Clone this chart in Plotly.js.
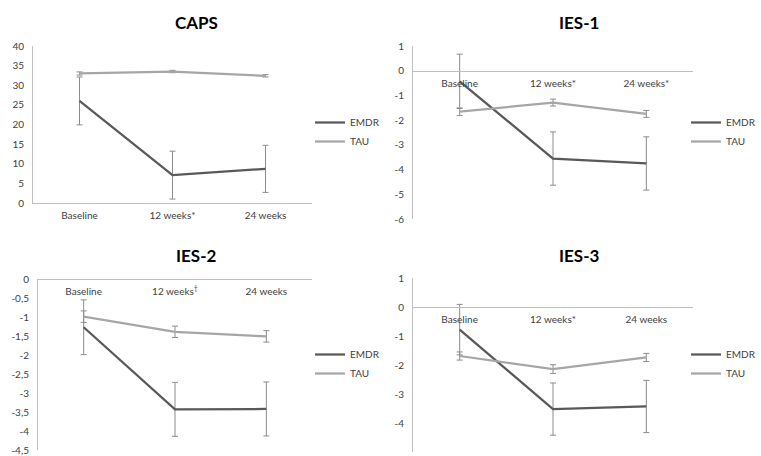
<!DOCTYPE html>
<html>
<head>
<meta charset="utf-8">
<script src="https://cdn.plot.ly/plotly-3.0.1.min.js"></script>
<style>
html,body{margin:0;padding:0;background:#fff;}
#chart{width:761px;height:456px;}
</style>
</head>
<body>
<div id="chart"></div>
<script>
// ---- data ----
const timepoints = ['Baseline', '12 weeks', '24 weeks'];
const seriesNames = ['EMDR', 'TAU'];
const panelTitles = ['CAPS', 'IES-1', 'IES-2', 'IES-3'];

const capsLabels = ['Baseline', '12 weeks*', '24 weeks'];
const ies1Labels = ['Baseline', '12 weeks*', '24 weeks*'];
const ies2Labels = ['Baseline', '12 weeks<sup>†</sup>', '24 weeks'];
const ies3Labels = ['Baseline', '12 weeks*', '24 weeks'];

const capsEMDR = [26.0, 7.1, 8.7];
const capsEMDRErr = [6.1, 6.1, 6.0];
const capsTAU = [33.0, 33.5, 32.4];
const capsTAUErr = [0.4, 0.3, 0.3];

const ies1EMDR = [-0.42, -3.55, -3.75];
const ies1EMDRErr = [1.1, 1.08, 1.08];
const ies1TAU = [-1.65, -1.28, -1.74];
const ies1TAUErr = [0.15, 0.14, 0.14];

const ies2EMDR = [-1.27, -3.43, -3.42];
const ies2EMDRErr = [0.72, 0.71, 0.71];
const ies2TAU = [-0.99, -1.39, -1.51];
const ies2TAUErr = [0.15, 0.15, 0.15];

const ies3EMDR = [-0.78, -3.52, -3.43];
const ies3EMDRErr = [0.87, 0.9, 0.9];
const ies3TAU = [-1.69, -2.14, -1.74];
const ies3TAUErr = [0.14, 0.15, 0.14];

const capsTicks = [0, 5, 10, 15, 20, 25, 30, 35, 40];
const capsTickText = ['0', '5', '10', '15', '20', '25', '30', '35', '40'];
const ies1Ticks = [1, 0, -1, -2, -3, -4, -5, -6];
const ies1TickText = ['1', '0', '-1', '-2', '-3', '-4', '-5', '-6'];
const ies2Ticks = [0, -0.5, -1, -1.5, -2, -2.5, -3, -3.5, -4, -4.5];
const ies2TickText = ['0', '-0,5', '-1', '-1,5', '-2', '-2,5', '-3', '-3,5', '-4', '-4,5'];
const ies3Ticks = [1, 0, -1, -2, -3, -4, -5];
const ies3TickText = ['1', '0', '-1', '-2', '-3', '-4', '-5'];

// ---- styling / layout ----
const W = 761, H = 456;
const FONT = 'Lato, "Open Sans", sans-serif';
const colEMDR = '#595959', colTAU = '#a6a6a6', axisCol = '#c0c0c0', txtCol = '#404040';

function px2x(p) { return p / W; }
function py2y(p) { return 1 - p / H; }

const panels = [
  {title: panelTitles[0], labels: capsLabels, e: capsEMDR, ee: capsEMDRErr, t: capsTAU, te: capsTAUErr,
   ticks: capsTicks, tickText: capsTickText, range: [0, 40],
   xpx: [33, 312], ypx: [46, 203], cross: 'bottom', titlePos: [196, 22], legPos: [310, 132]},
  {title: panelTitles[1], labels: ies1Labels, e: ies1EMDR, ee: ies1EMDRErr, t: ies1TAU, te: ies1TAUErr,
   ticks: ies1Ticks, tickText: ies1TickText, range: [-6, 1],
   xpx: [413, 693], ypx: [46.3, 219], cross: 'zero', titlePos: [579, 22], legPos: [686, 132]},
  {title: panelTitles[2], labels: ies2Labels, e: ies2EMDR, ee: ies2EMDRErr, t: ies2TAU, te: ies2TAUErr,
   ticks: ies2Ticks, tickText: ies2TickText, range: [-4.5, 0],
   xpx: [38, 312], ypx: [279, 450], cross: 'zero', titlePos: [196, 255], legPos: [310, 364]},
  {title: panelTitles[3], labels: ies3Labels, e: ies3EMDR, ee: ies3EMDRErr, t: ies3TAU, te: ies3TAUErr,
   ticks: ies3Ticks, tickText: ies3TickText, range: [-5, 1],
   xpx: [413, 693], ypx: [278, 452], cross: 'zero', titlePos: [579, 255], legPos: [686, 364]}
];

const traces = [];
const layout = {
  width: W, height: H,
  margin: {l: 0, r: 0, t: 0, b: 0, autoexpand: false},
  paper_bgcolor: '#fff', plot_bgcolor: 'rgba(0,0,0,0)',
  font: {family: FONT, size: 10, color: txtCol},
  annotations: [],
  showlegend: true
};

panels.forEach((p, i) => {
  const n = i + 1;
  const xa = 'x' + (n === 1 ? '' : n), ya = 'y' + (n === 1 ? '' : n);
  const xk = 'xaxis' + (n === 1 ? '' : n), yk = 'yaxis' + (n === 1 ? '' : n);
  const lk = 'legend' + (n === 1 ? '' : n);
  const ydom = [py2y(p.ypx[1]), py2y(p.ypx[0])];
  const xdom = [px2x(p.xpx[0]), px2x(p.xpx[1])];

  const mk = (name, y, err, col) => ({
    type: 'scatter', mode: 'lines', name: name,
    x: timepoints, y: y, xaxis: xa, yaxis: ya, legend: lk,
    line: {color: col, width: 2.25},
    error_y: {type: 'data', array: err, visible: true, color: '#8c8c8c', thickness: 1, width: 3},
    hoverinfo: 'skip'
  });
  traces.push(mk(seriesNames[0], p.e, p.ee, colEMDR));
  traces.push(mk(seriesNames[1], p.t, p.te, colTAU));

  const zeroPos = ydom[0] + (0 - p.range[0]) / (p.range[1] - p.range[0]) * (ydom[1] - ydom[0]);
  layout[xk] = {
    domain: xdom, type: 'category', range: [-0.5, 2.5],
    tickvals: timepoints, ticktext: p.labels,
    showline: true, linecolor: axisCol, linewidth: 1,
    showgrid: false, zeroline: false, ticks: '',
    tickfont: {family: FONT, size: 10, color: txtCol},
    ticklabelstandoff: 3,
    automargin: false,
    fixedrange: true
  };
  if (p.cross === 'bottom') {
    layout[xk].anchor = ya;
  } else {
    layout[xk].anchor = 'free';
    layout[xk].position = zeroPos;
  }
  layout[yk] = {
    domain: ydom, range: p.range, anchor: xa,
    tickvals: p.ticks, ticktext: p.tickText,
    showline: true, linecolor: axisCol, linewidth: 1,
    showgrid: false, zeroline: false, ticks: '',
    tickfont: {family: FONT, size: 10, color: txtCol},
    ticklabelstandoff: 6,
    automargin: false,
    fixedrange: true
  };
  layout[lk] = {
    x: px2x(p.legPos[0]), y: py2y(p.legPos[1]), xanchor: 'left', yanchor: 'middle',
    font: {family: FONT, size: 10, color: txtCol},
    bgcolor: 'rgba(0,0,0,0)', itemwidth: 30, tracegroupgap: 0
  };
  layout.annotations.push({
    text: '<b>' + p.title + '</b>', xref: 'paper', yref: 'paper',
    x: px2x(p.titlePos[0]), y: py2y(p.titlePos[1]), xanchor: 'center', yanchor: 'middle',
    showarrow: false, font: {family: FONT, size: 17, color: '#000'}
  });
});

Plotly.newPlot('chart', traces, layout, {staticPlot: true, displayModeBar: false});
</script>
</body>
</html>
